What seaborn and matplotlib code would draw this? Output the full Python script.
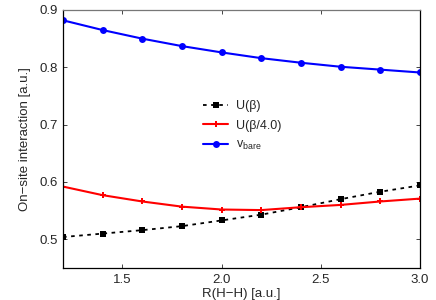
import matplotlib
matplotlib.use("Agg")
import matplotlib.pyplot as plt
import seaborn as sns
import pandas as pd

R = [1.2, 1.4, 1.6, 1.8, 2.0, 2.2, 2.4, 2.6, 2.8, 3.0]
U_beta = [0.504, 0.510, 0.516, 0.523, 0.533, 0.543, 0.556, 0.570, 0.583, 0.594]
U_beta4 = [0.592, 0.577, 0.566, 0.557, 0.552, 0.551, 0.556, 0.560, 0.566, 0.571]
v_bare = [0.882, 0.865, 0.850, 0.837, 0.826, 0.816, 0.808, 0.801, 0.796, 0.791]

sns.set_theme(style="ticks")
plt.rcParams['font.family'] = ['Liberation Sans', 'DejaVu Sans']
plt.rcParams['mathtext.fontset'] = 'custom'
plt.rcParams['mathtext.rm'] = 'Liberation Sans'

fig = plt.figure(figsize=(4.36, 3.0), dpi=100)
ax = fig.add_axes([0.1445, 0.1067, 0.8185, 0.86])

df = pd.DataFrame({"R": R, "Ub": U_beta, "Ub4": U_beta4, "vb": v_bare})
sns.lineplot(data=df, x="R", y="Ub", ax=ax, color="black", linestyle=(0, (2.0, 2.5)),
             marker="s", markersize=5, markeredgewidth=0, linewidth=1.3, label="U(β)")
sns.lineplot(data=df, x="R", y="Ub4", ax=ax, color="#ff0000", marker="P", markersize=5,
             markeredgewidth=0, linewidth=1.5, label="U(β/4.0)")
sns.lineplot(data=df, x="R", y="vb", ax=ax, color="#0000ff", marker="o", markersize=5,
             markeredgewidth=0, linewidth=1.5, label=r"v$_{\rm bare}$")

ax.set_xlim(1.2, 3.0)
ax.set_ylim(0.45, 0.9)
ax.set_xticks([1.5, 2.0, 2.5, 3.0])
ax.set_xticklabels(["1.5", "2.0", "2.5", "3.0"])
ax.set_yticks([0.5, 0.6, 0.7, 0.8, 0.9])
ax.set_yticklabels(["0.5", "0.6", "0.7", "0.8", "0.9"])
ax.tick_params(direction="in", top=True, right=True, labelsize=9.5, length=3, width=0.6, pad=4)
for s in ax.spines.values():
    s.set_linewidth(0.9)
    s.set_color("black")
ax.spines["top"].set_color("#777777")
ax.set_xlabel("R(H−H) [a.u.]", fontsize=9.5, labelpad=2)
ax.set_ylabel("On−site interaction [a.u.]", fontsize=9.5, labelpad=6)

ax.legend(loc="upper left", bbox_to_anchor=(0.375, 0.675), frameon=False, fontsize=9,
          handlelength=2.0, labelspacing=0.6, handletextpad=0.6, borderpad=0)

fig.savefig("out.png", dpi=100)
